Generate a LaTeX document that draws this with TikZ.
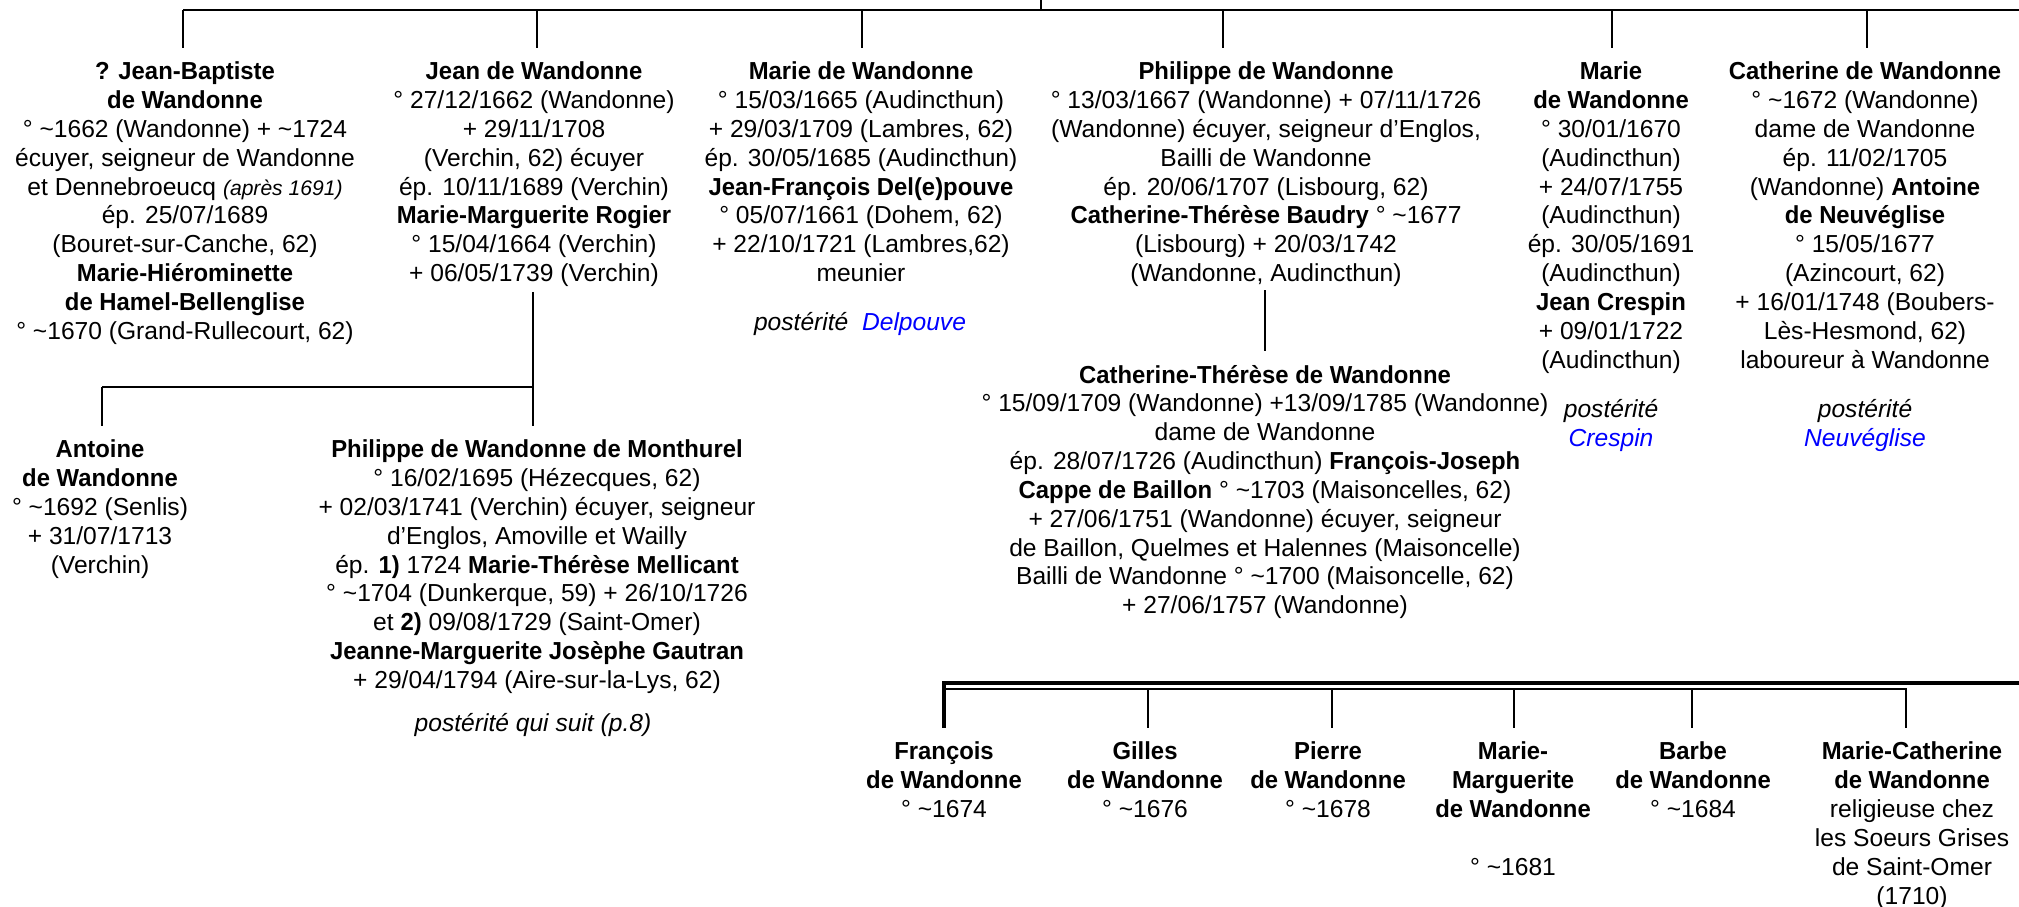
\documentclass[tikz,border=0pt]{standalone}
\usepackage{fontspec}
\setmainfont{Liberation Sans}[BoldFeatures={FakeStretch=0.97}]
\usepackage{tikz}
\newcommand{\circa}{\textasciitilde}
\newcommand{\dropline}[2]{
    \draw (#1) -- (#1 |- #2.north);
}
\tikzset{
    person/.style={align=center, anchor=north, inner xsep=0pt, inner ysep=0.13cm, font=\fontsize{7}{8.2}\selectfont},
    post/.style={person, font=\fontsize{7}{8.2}\selectfont\itshape},
    thickbar/.style={line width=0.9pt},
}

\begin{document}
\begin{tikzpicture}[line width=0.6pt]
        \useasboundingbox (0,0) rectangle (20.19,-9.06);
        \coordinate (t0) at (10.41,0);
        \coordinate (tr) at (20.19,-0.10);
        \coordinate (d1) at (1.83,-0.10);
        \coordinate (d2) at (5.37,-0.10);
        \coordinate (d3) at (8.62,-0.10);
        \coordinate (d4) at (12.23,-0.10);
        \coordinate (d5) at (16.12,-0.10);
        \coordinate (d6) at (18.67,-0.10);

        \node[person] (a) at (1.85,-0.48) {\textbf{? Jean-Baptiste}\\\textbf{de Wandonne}\\° \circa1662 (Wandonne) + \circa1724\\écuyer, seigneur de Wandonne\\et Dennebroeucq {\fontsize{6}{8.2}\selectfont\itshape (après 1691)}\\ép. 25/07/1689\\(Bouret-sur-Canche, 62)\\\textbf{Marie-Hiérominette}\\\textbf{de Hamel-Bellenglise}\\° \circa1670 (Grand-Rullecourt, 62)};
        \node[person] (b) at (5.34,-0.48) {\textbf{Jean de Wandonne}\\° 27/12/1662 (Wandonne)\\+ 29/11/1708\\(Verchin, 62) écuyer\\ép. 10/11/1689 (Verchin)\\\textbf{Marie-Marguerite Rogier}\\° 15/04/1664 (Verchin)\\+ 06/05/1739 (Verchin)};
        \node[person] (c) at (8.61,-0.48) {\textbf{Marie de Wandonne}\\° 15/03/1665 (Audincthun)\\+ 29/03/1709 (Lambres, 62)\\ép. 30/05/1685 (Audincthun)\\\textbf{Jean-François Del(e)pouve}\\° 05/07/1661 (Dohem, 62)\\+ 22/10/1721 (Lambres,62)\\meunier};
        \node[person] (d) at (12.66,-0.48) {\textbf{Philippe de Wandonne}\\° 13/03/1667 (Wandonne) + 07/11/1726\\(Wandonne) écuyer, seigneur d’Englos,\\Bailli de Wandonne\\ép. 20/06/1707 (Lisbourg, 62)\\\textbf{Catherine-Thérèse Baudry} ° \circa1677\\(Lisbourg) + 20/03/1742\\(Wandonne, Audincthun)};
        \node[person] (e) at (16.11,-0.48) {\textbf{Marie}\\\textbf{de Wandonne}\\° 30/01/1670\\(Audincthun)\\+ 24/07/1755\\(Audincthun)\\ép. 30/05/1691\\(Audincthun)\\\textbf{Jean Crespin}\\+ 09/01/1722\\(Audincthun)};
        \node[person] (f) at (18.65,-0.48) {\textbf{Catherine de Wandonne}\\° \circa1672 (Wandonne)\\dame de Wandonne\\ép. 11/02/1705\\(Wandonne) \textbf{Antoine}\\\textbf{de Neuvéglise}\\° 15/05/1677\\(Azincourt, 62)\\+ 16/01/1748 (Boubers-\\Lès-Hesmond, 62)\\laboureur à Wandonne};

        \node[post] (cp) at (8.60,-2.98) {postérité\ \ \textcolor{blue}{Delpouve}};
        \node[post] (ep) at (16.11,-3.85) {postérité\\\textcolor{blue}{Crespin}};
        \node[post] (fp) at (18.65,-3.85) {postérité\\\textcolor{blue}{Neuvéglise}};

        \draw (d1) -- (tr);
        \draw (t0) -- (t0 |- tr);
        \dropline{d1}{a}
        \dropline{d2}{b}
        \dropline{d3}{c}
        \dropline{d4}{d}
        \dropline{d5}{e}
        \dropline{d6}{f}

        \coordinate (g0) at (5.33,-3.87);
        \coordinate (g1) at (1.02,-3.87);
        \node[person] (ba) at (1.00,-4.26) {\textbf{Antoine}\\\textbf{de Wandonne}\\° \circa1692 (Senlis)\\+ 31/07/1713\\(Verchin)};
        \node[person] (bb) at (5.37,-4.26) {\textbf{Philippe de Wandonne de Monthurel}\\° 16/02/1695 (Hézecques, 62)\\+ 02/03/1741 (Verchin) écuyer, seigneur\\d’Englos, Amoville et Wailly\\ép. \textbf{1)} 1724 \textbf{Marie-Thérèse Mellicant}\\° \circa1704 (Dunkerque, 59) + 26/10/1726\\et \textbf{2)} 09/08/1729 (Saint-Omer)\\\textbf{Jeanne-Marguerite Josèphe Gautran}\\+ 29/04/1794 (Aire-sur-la-Lys, 62)};
        \node[post] (bbp) at (5.33,-6.99) {postérité qui suit (p.8)};
        \coordinate (bs) at ([yshift=2.5pt]b.south);
        \draw (bs -| g0) -- (g0) -- (g1);
        \dropline{g1}{ba}
        \dropline{g0}{bb}

        \node[person] (dd) at (12.65,-3.51) {\textbf{Catherine-Thérèse de Wandonne}\\° 15/09/1709 (Wandonne) +13/09/1785 (Wandonne)\\dame de Wandonne\\ép. 28/07/1726 (Audincthun) \textbf{François-Joseph}\\\textbf{Cappe de Baillon} ° \circa1703 (Maisoncelles, 62)\\+ 27/06/1751 (Wandonne) écuyer, seigneur\\de Baillon, Quelmes et Halennes (Maisoncelle)\\Bailli de Wandonne ° \circa1700 (Maisoncelle, 62)\\+ 27/06/1757 (Wandonne)};
        \coordinate (ds) at ([yshift=3pt]d.south);
        \draw (dd.north |- ds) -- (dd.north);

        \coordinate (h0) at (9.44,-6.83);
        \coordinate (hr) at (20.19,-6.83);
        \coordinate (h1) at (9.44,-6.89);
        \coordinate (h2) at (11.48,-6.89);
        \coordinate (h3) at (13.32,-6.89);
        \coordinate (h4) at (15.14,-6.89);
        \coordinate (h5) at (16.92,-6.89);
        \coordinate (h6) at (19.06,-6.89);
        \node[person] (k1) at (9.44,-7.28) {\textbf{François}\\\textbf{de Wandonne}\\° \circa1674};
        \node[person] (k2) at (11.45,-7.28) {\textbf{Gilles}\\\textbf{de Wandonne}\\° \circa1676};
        \node[person] (k3) at (13.28,-7.28) {\textbf{Pierre}\\\textbf{de Wandonne}\\° \circa1678};
        \node[person] (k4) at (15.13,-7.28) {\textbf{Marie-}\\\textbf{Marguerite}\\\textbf{de Wandonne}\\[8.2pt]° \circa1681};
        \node[person] (k5) at (16.93,-7.28) {\textbf{Barbe}\\\textbf{de Wandonne}\\° \circa1684};
        \node[person] (k6) at (19.12,-7.28) {\textbf{Marie-Catherine}\\\textbf{de Wandonne}\\religieuse chez\\les Soeurs Grises\\de Saint-Omer\\(1710)};
        \draw[thickbar] (hr) -- (h0) -- (h0 |- k1.north);
        \draw (h1) -- (h6) -- (h6 |- k6.north);
        \dropline{h2}{k2}
        \dropline{h3}{k3}
        \dropline{h4}{k4}
        \dropline{h5}{k5}
    \end{tikzpicture}
\end{document}
